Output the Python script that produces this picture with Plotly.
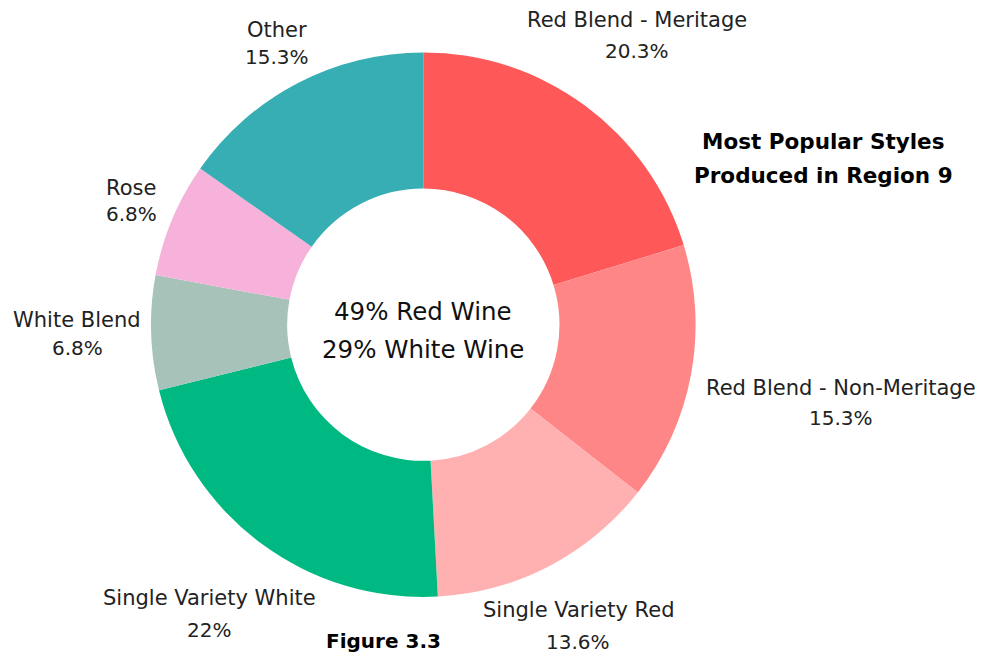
import plotly.graph_objects as go

labels = ["Red Blend - Meritage", "Red Blend - Non-Meritage", "Single Variety Red",
          "Single Variety White", "White Blend", "Rose", "Other"]
values = [20.3, 15.3, 13.6, 22, 6.8, 6.8, 15.3]
value_text = ["20.3%", "15.3%", "13.6%", "22%", "6.8%", "6.8%", "15.3%"]
colors = ["#FF5858", "#FF8686", "#FFB1B1", "#00B982", "#A7C2B8", "#F7B2DB", "#37ADB4"]
center_lines = ["49% Red Wine", "29% White Wine"]
title_lines = ["Most Popular Styles", "Produced in Region 9"]
caption = "Figure 3.3"

# ---- layout (pixel positions in the 998x653 window) ----
W, H = 998, 653
OFF = 8  # page body margin
cx, cy, R = 423.3, 324.7, 272.3
# label anchor (x, y of line 1, y of line 2) for each slice, in page pixels
label_pos = [(637, 20, 51), (841, 388, 418), (578, 610, 642), (209, 597.5, 629.5),
             (77, 320, 347.5), (131, 188, 214.5), (277, 30, 57.5)]


def px(x):
    return (x - OFF) / W


def py(y):
    return 1 - (y - OFF) / H


FONT = "DejaVu Sans, Verdana, sans-serif"

fig = go.Figure(go.Pie(
    labels=labels, values=values, customdata=value_text,
    marker=dict(colors=colors, line=dict(color="white", width=0)),
    hole=0.5, sort=False, direction="clockwise", rotation=0,
    textinfo="none",
    domain=dict(x=[px(cx - R), px(cx + R)], y=[py(cy + R), py(cy - R)]),
    showlegend=False, hoverinfo="label+percent",
))

ann = []


def add(x, y, text, size, color="#222"):
    ann.append(dict(x=px(x), y=py(y), xref="paper", yref="paper", text=text,
                    showarrow=False, xanchor="center", yanchor="middle",
                    font=dict(family=FONT, size=size, color=color)))


for lab, vt, (lx, y1, y2) in zip(labels, value_text, label_pos):
    add(lx, y1, lab, 21)
    add(lx, y2, vt, 20)

for i, t in enumerate(center_lines):
    add(cx, 311 + 38 * i, t, 24.5, "#111")
for i, t in enumerate(title_lines):
    add(823, 141 + 34 * i, "<b>" + t + "</b>", 21.5, "#000")
add(383, 641, "<b>" + caption + "</b>", 20, "#000")

fig.update_layout(width=W, height=H, margin=dict(l=0, r=0, t=0, b=0),
                  paper_bgcolor="white", plot_bgcolor="white", annotations=ann)
fig.write_html("out.html")
